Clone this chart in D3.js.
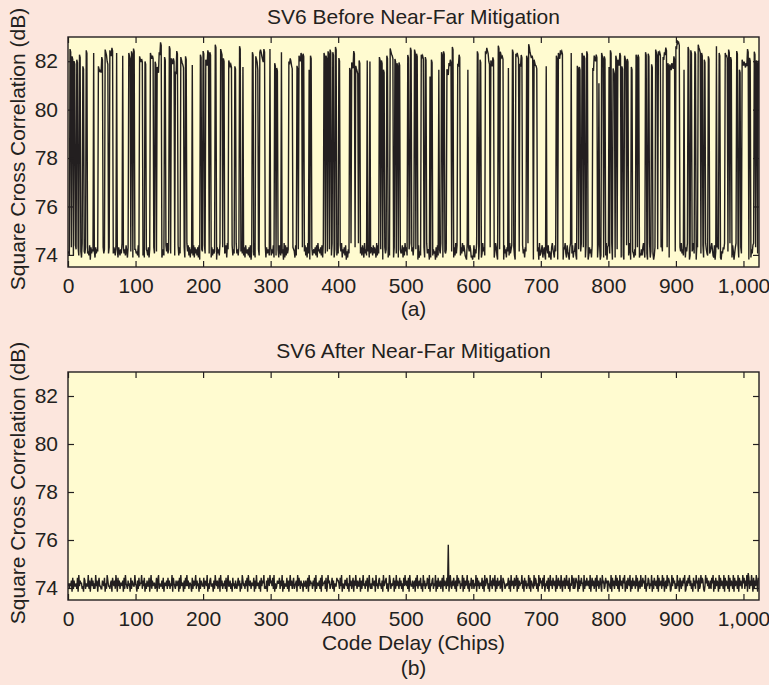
<!DOCTYPE html>
<html><head><meta charset="utf-8">
<script src="https://cdn.jsdelivr.net/npm/d3@7"></script>
<style>
body{margin:0;background:#fce6dd}
text{font-family:"Liberation Sans",Arial,Helvetica,sans-serif;fill:#231f20}
</style>
</head><body>
<svg id="chart" width="769" height="685"></svg>
<script>
// ---------- data ----------
const xTicks = [0,100,200,300,400,500,600,700,800,900,1000];
const yTicks = [74,76,78,80,82];
const chipCount = 1023;

// Panel (a): high cross-correlation peaks (chip, dB)
const spikeChipsA = [3,6,9,13,17,22,27,38,45,48,50,55,58,62,65,72,81,90,94,97,106,109,114,122,125,129,132,135,137,143,150,153,156,159,161,167,170,174,184,196,200,204,207,210,218,226,230,238,241,247,254,
259,273,278,280,284,285,287,290,299,306,309,316,327,329,331,339,342,345,348,357,359,379,382,385,388,392,396,401,417,420,423,426,428,431,443,447,461,464,467,472,477,480,484,487,490,503,507,
513,516,523,525,529,536,538,549,553,556,561,564,566,569,577,579,592,606,610,618,620,623,626,629,637,640,643,652,658,663,665,669,671,679,682,684,687,690,693,708,723,726,729,731,745,754,757,761,764,
768,777,779,782,786,790,794,801,803,807,811,814,817,820,824,828,834,841,844,855,859,864,870,874,876,881,883,885,888,891,894,897,900,902,904,912,918,922,928,933,935,938,942,948,960,964,973,975,978,981,990,994,998,1001,1004,1006,1009,1016,1019,1022];
const spikeDbA = [82.5,82.2,82.0,82.06,82.27,81.79,82.45,82.34,81.79,81.65,82.17,82.48,81.99,82.45,82.55,82.34,82.23,82.34,82.41,82.52,82.2,82.09,81.99,82.34,82.23,81.98,81.76,82.37,82.78,82.17,82.62,82.12,82.12,81.58,82.42,82.17,81.85,82.2,81.84,82.27,82.42,82.06,82.45,82.37,82.68,82.5,82.12,82.03,81.87,81.79,82.62,
81.76,82.37,82.2,81.76,82.37,82.48,82.2,82.5,82.5,81.92,81.72,82.37,81.99,82.12,81.81,81.81,82.23,82.34,82.31,81.65,82.23,82.34,82.23,82.41,82.48,82.37,82.59,82.13,81.72,81.95,82.42,81.81,81.59,82.03,82.03,81.99,82.17,82.03,81.65,82.23,82.53,82.23,82.09,81.92,81.95,82.26,82.56,
82.48,82.31,82.27,82.23,82.17,81.37,82.06,81.65,82.37,82.41,81.67,81.92,82.06,82.59,81.9,82.27,81.65,82.41,82.06,82.41,82.55,81.99,82.03,82.16,82.64,82.39,82.2,81.72,82.48,82.31,82.34,81.9,82.26,82.23,82.7,82.37,82.23,82.06,81.81,81.79,82.23,82.34,82.45,82.41,82.34,81.81,81.76,82.34,82.23,
82.41,81.72,82.23,82.27,81.09,82.34,82.2,81.76,82.45,81.7,82.23,82.06,82.34,81.79,82.23,82.09,81.76,82.27,82.27,82.37,82.31,81.87,82.48,82.41,82.37,82.17,82.37,82.56,81.92,81.87,81.92,82.2,82.62,82.86,82.78,81.65,82.59,82.45,82.41,82.68,82.48,82.34,82.06,82.2,82.62,82.34,82.34,82.23,82.48,82.17,82.42,81.65,82.06,81.98,81.92,82.5,82.14,82.39,82.03,82.03];
// peaks that are a single chip wide, and peaks that span three chips (others span two)
const thinSpikesA = [38,72,81,184,259,299,316,357,443,447,536,549,592,652,708,745,786,801,912,960,1022];
const wideSpikesA = [45,55,62,90,106,122,132,153,167,204,226,238,278,284,287,342,420,426,477,523,561,620,626,640,665,684,690,726,779,790,807,814,824,870,883,891,894,933,973,998,1001];

// Panel (b): remaining peaks after mitigation
const spikeChipsB = [563,1007];
const spikeDbB = [75.8,74.62];

// Noise floor, one digit per chip
const floorDigitsA = [
"45364726354865273645296354726453817465352746539264",
"53746285364725136475384627536492746385273645182736",
"64538274659372846537264819374625384736524637285946",
"37462859364728374651837264958372645382746372819465",
"52847363945827364528174639582736458296374528364719",
"46372859463728546372815463928475638274659382746538",
"73648259374628537461928374652839476528374619283746",
"58372946182735647382956473829164735826473958264738",
"47385926473815264739582647318592647385294637582947",
"63847529384756281937465827364958273641927364582739",
"57382694157382964718253946172839465172893645172839",
"64917283546192738456127394856213749586321947586231",
"38264957183624957381462597381642597318462957318462",
"75139468257319486257139846275319468527319846257193",
"46825731964825317964285371962845317694285317964825",
"59317462859317642859137462859314762859137462583917",
"82463917582436917582463197582436917854263197582436",
"37952864137925864137952684137952864317952684137925",
"64138275946318275964138257946318725964138257964318",
"45796328154796382154769832154796328514796382157493",
"73264985173264895173246985137264985173426985173246"];
const floorDigitsB = [
"45354627364453728465534276354483625746353846257443",
"36547253864435627546385274635546273854364527365448",
"54263745583647253644725836455347268354463725546374",
"63548275436456273845526374846355427364583645273654",
"47365482536744526385463572846354637258446352745364",
"35746253864536472854635547263845536274658343627548",
"56473825346557364826354473625846357345628475364526",
"44635728465536472835546372845563724856345736254476",
"65374825436647352846357264853644726358453647258435",
"37546284536745362845673524863545726384653746352748",
"54637285446356274835647352846354763825467354826374",
"46357284653746258436475362847563548273645836254736",
"63548274635547362845763528463754826374563842765345",
"45736284563745827364558362746354837265438476352847",
"56374825463725846375462835746385264735846372548637",
"34765283647552836475463825746357284635742856347562",
"65438274635847362854637582463754826374653847256384",
"47563825476354826375463827456384725638476523847563",
"53846275364758236475846352746385627348576324857463",
"46375826374652837465382746538274653827465382746538",
"57364825736485273648527364852736485273648527364852"];
// digit -> dB mapping for each panel's floor
const floorBaseA = 73.72, floorStepA = 0.085;
const floorBaseB = 73.62, floorStepB = 0.115;

// ---------- build series ----------
function buildSeries(digits, base, step, chips, dbs, thin, wide){
  const s = digits.join('').slice(0, chipCount).split('').map((c,i)=>({x:i, y: base + (+c)*step}));
  chips.forEach((c,k)=>{
    let w = 1;
    if (thin && wide) w = thin.includes(c) ? 1 : (wide.includes(c) ? 3 : 2);
    for (let j=0;j<w;j++){ if (c+j < s.length) s[c+j].y = Math.max(s[c+j].y, dbs[k] - j*0.12); }
  });
  return s;
}
const seriesA = buildSeries(floorDigitsA, floorBaseA, floorStepA, spikeChipsA, spikeDbA, thinSpikesA, wideSpikesA);
const seriesB = buildSeries(floorDigitsB, floorBaseB, floorStepB, spikeChipsB, spikeDbB);

// ---------- drawing ----------
const svg = d3.select('#chart');
svg.append('rect').attr('width',769).attr('height',685).attr('fill','#fce6dd');
const ink = '#231f20';
const fs = '21px';
const left = 68, right = 759;
const x = d3.scaleLinear().domain([0,1023]).range([left,right]);
const fmtX = d => d===1000 ? '1,000' : String(d);

function panel(id, top, bottom, series, title, titleY, labelY, subLabel, subY, xLabel){
  const y = d3.scaleLinear().domain([73.5,83]).range([bottom,top]);
  svg.append('rect').attr('x',left).attr('y',top).attr('width',right-left).attr('height',bottom-top).attr('fill','#fffbd0');
  svg.append('clipPath').attr('id','clip'+id).append('rect').attr('x',left).attr('y',top).attr('width',right-left).attr('height',bottom-top);
  const line = d3.line().x(d=>x(d.x)).y(d=>y(d.y));
  svg.append('path').datum(series).attr('d',line).attr('fill','none').attr('stroke',ink)
     .attr('stroke-width',1.4).attr('stroke-linejoin','miter').attr('clip-path','url(#clip'+id+')');
  const tl = 6;
  const gB = svg.append('g').attr('transform',`translate(0,${bottom})`)
     .call(d3.axisBottom(x).tickValues(xTicks).tickSize(-tl).tickPadding(11).tickFormat(fmtX));
  const gT = svg.append('g').attr('transform',`translate(0,${top})`)
     .call(d3.axisTop(x).tickValues(xTicks).tickSize(-tl).tickFormat(''));
  const gL = svg.append('g').attr('transform',`translate(${left},0)`)
     .call(d3.axisLeft(y).tickValues(yTicks).tickSize(-tl).tickPadding(10));
  const gR = svg.append('g').attr('transform',`translate(${right},0)`)
     .call(d3.axisRight(y).tickValues(yTicks).tickSize(-tl).tickFormat(''));
  [gB,gT,gL,gR].forEach(g=>{
    g.select('.domain').remove();
    g.selectAll('.tick line').attr('stroke',ink).attr('stroke-width',1.2);
    g.selectAll('.tick text').attr('fill',ink).style('font-size',fs).style('font-family','"Liberation Sans",Arial,sans-serif');
  });
  gB.selectAll('.tick text').attr('dy','0.71em');
  svg.append('rect').attr('x',left).attr('y',top).attr('width',right-left).attr('height',bottom-top)
     .attr('fill','none').attr('stroke',ink).attr('stroke-width',1.4);
  svg.append('text').attr('x',(left+right)/2).attr('y',titleY).attr('text-anchor','middle').style('font-size',fs).text(title);
  svg.append('text').attr('transform',`translate(25,${(top+bottom)/2 - 3}) rotate(-90)`).attr('text-anchor','middle').style('font-size',fs).text(labelY);
  if(xLabel) svg.append('text').attr('x',(left+right)/2).attr('y',xLabel[1]).attr('text-anchor','middle').style('font-size',fs).text(xLabel[0]);
  svg.append('text').attr('x',(left+right)/2).attr('y',subY).attr('text-anchor','middle').style('font-size',fs).text(subLabel);
}

panel('a', 37, 267, seriesA, 'SV6 Before Near-Far Mitigation', 24, 'Square Cross Correlation (dB)', '(a)', 316, null);
panel('b', 372, 600, seriesB, 'SV6 After Near-Far Mitigation', 358, 'Square Cross Correlation (dB)', '(b)', 675, ['Code Delay (Chips)', 650]);
</script>
</body></html>
